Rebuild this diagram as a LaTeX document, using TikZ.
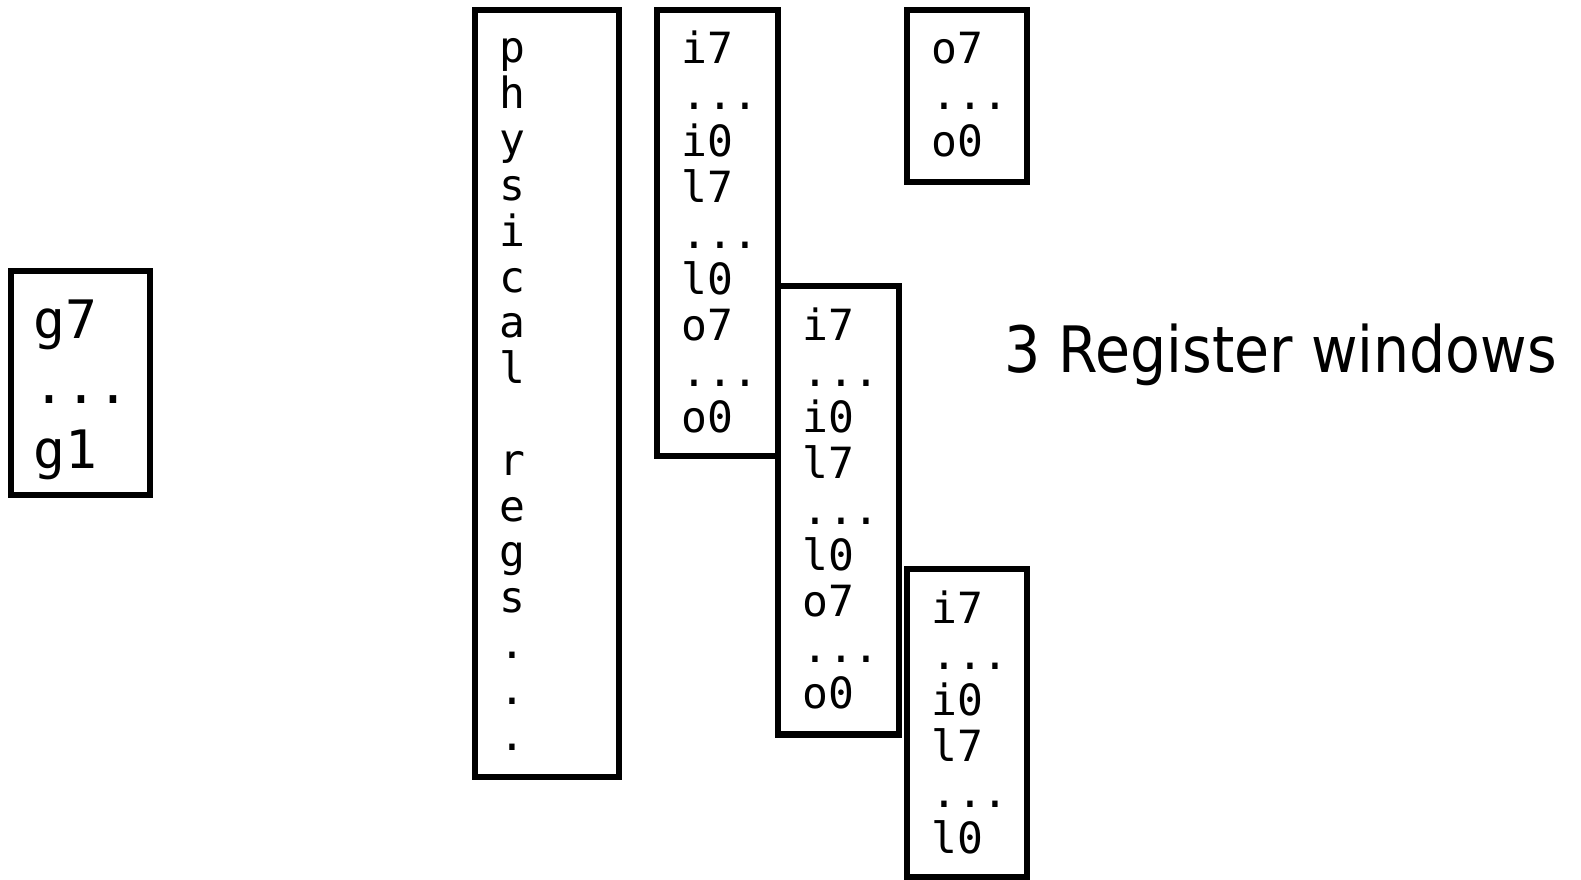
\documentclass[tikz,border=0pt]{standalone}
\usepackage{fontspec}
\newfontfamily\regmono{DejaVu Sans Mono}
\newfontfamily\titlefont[FakeStretch=0.89]{DejaVu Sans}
\newcommand\elide{...}
\tikzset{
  regbox/.style={draw, line width=6.5pt, rectangle, inner sep=0pt, outer sep=0pt},
  regtxt/.style={inner sep=0pt, anchor=base west, font=\regmono\fontsize{43}{46}\selectfont},
  bigtxt/.style={inner sep=0pt, anchor=base west, font=\regmono\fontsize{53}{65}\selectfont},
  phystxt/.style={inner sep=0pt, anchor=base, font=\regmono\fontsize{43}{46}\selectfont},
  titletxt/.style={inner sep=0pt, anchor=base west, font=\titlefont\fontsize{64}{70}\selectfont}
}
\begin{document}
\begin{tikzpicture}[x=1pt,y=-1pt]
\useasboundingbox (0,0) rectangle (1581,880);

% global registers
\node[regbox, minimum width=139pt, minimum height=224pt] (gbox) at (80.5,383) {};
\foreach \t [count=\k from 0] in {g7,\elide,g1}
  \node[bigtxt] (g\k) at (33,338+65*\k) {\t};

% physical register file
\node[regbox, minimum width=144pt, minimum height=767pt] (phys) at (547,393.5) {};
\foreach \t [count=\k from 0] in {p,h,y,s,i,c,a,l,{},r,e,g,s,.,.,.}
  \node[phystxt] (p\k) at (512,63+45.8*\k) {\strut\t};

% window 1
\node[regbox, minimum width=121pt, minimum height=446pt] (w1) at (717.5,233) {};
\foreach \t [count=\k from 0] in {i7,\elide,i0,l7,\elide,l0,o7,\elide,o0}
  \node[regtxt] (wa\k) at (681,64+46*\k) {\t};

% window 2
\node[regbox, minimum width=121pt, minimum height=448.5pt] (w2) at (838.5,510.25) {};
\foreach \t [count=\k from 0] in {i7,\elide,i0,l7,\elide,l0,o7,\elide,o0}
  \node[regtxt] (wb\k) at (802,340+46*\k) {\t};

% window 3
\node[regbox, minimum width=120pt, minimum height=308pt] (w3) at (967,723) {};
\foreach \t [count=\k from 0] in {i7,\elide,i0,l7,\elide,l0}
  \node[regtxt] (wc\k) at (931,623+46*\k) {\t};

% outs of the next window
\node[regbox, minimum width=120pt, minimum height=172pt] (obox) at (967,96) {};
\foreach \t [count=\k from 0] in {o7,\elide,o0}
  \node[regtxt] (o\k) at (931,64+46*\k) {\t};

\node[titletxt] (title) at (1004,372) {3 Register windows};
\end{tikzpicture}
\end{document}
